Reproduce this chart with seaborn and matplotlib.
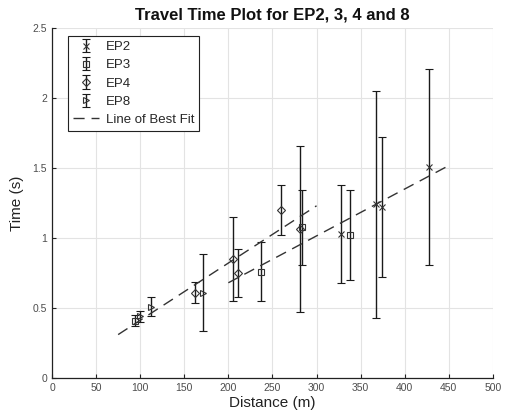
import numpy as np
import pandas as pd
import matplotlib
matplotlib.use("Agg")
import matplotlib.pyplot as plt
from matplotlib.ticker import FuncFormatter, MultipleLocator
import seaborn as sns

# -----------------------------
# DATA
# -----------------------------
ep2_dist = [328, 368, 374, 427]
ep2_time = [1.03, 1.24, 1.22, 1.51]
ep2_err = [0.35, 0.81, 0.50, 0.70]

ep3_dist = [94, 237, 283, 338]
ep3_time = [0.41, 0.76, 1.075, 1.02]
ep3_err = [0.04, 0.21, 0.265, 0.32]

ep4_dist = [162, 205, 211, 260, 281]
ep4_time = [0.61, 0.85, 0.75, 1.20, 1.065]
ep4_err = [0.075, 0.30, 0.17, 0.18, 0.595]

ep8_dist = [100, 112, 171]
ep8_time = [0.44, 0.51, 0.61]
ep8_err = [0.04, 0.065, 0.275]

# two fitted lines: slope, intercept, x range
fit_slope = [0.00409, 0.00335]
fit_intercept = [0.003, 0.01]
fit_start = [75, 200]
fit_end = [300, 451]

series = [
    ("EP2", ep2_dist, ep2_time, ep2_err, "x", 4.5),
    ("EP3", ep3_dist, ep3_time, ep3_err, "s", 4.5),
    ("EP4", ep4_dist, ep4_time, ep4_err, "D", 4.5),
    ("EP8", ep8_dist, ep8_time, ep8_err, ">", 5),
]

# -----------------------------
# STYLE
# -----------------------------
sns.set_style("whitegrid")
plt.rcParams['font.family'] = ['Liberation Sans', 'DejaVu Sans']

fig = plt.figure(figsize=(5.05, 4.19), dpi=100)
ax = fig.add_axes([0.103, 0.098, 0.873, 0.835])

# -----------------------------
# ERROR BAR SERIES
# -----------------------------
handles = []
for name, d, t, e, m, ms in series:
    h = ax.errorbar(d, t, yerr=e, fmt=m, color="#1a1a1a", ecolor="#1a1a1a",
                    mfc="none", mec="#333333", ms=ms, mew=0.8,
                    elinewidth=1.0, capsize=3, capthick=1.0, label=name)
    handles.append(h)

# -----------------------------
# LINES OF BEST FIT
# -----------------------------
for i in range(len(fit_slope)):
    fx = np.array([fit_start[i], fit_end[i]])
    fit_df = pd.DataFrame({"x": fx, "y": fit_slope[i] * fx + fit_intercept[i]})
    sns.lineplot(data=fit_df, x="x", y="y", ax=ax, color="#333333",
                 linewidth=1.0, linestyle=(0, (8, 5)),
                 label="Line of Best Fit" if i == 0 else None)
fit_handle = ax.get_lines()[-2]

# -----------------------------
# AXES
# -----------------------------
ax.set_xlim(0, 500)
ax.set_ylim(0, 2.5)
ax.xaxis.set_major_locator(MultipleLocator(50))
ax.yaxis.set_major_locator(MultipleLocator(0.5))
ax.yaxis.set_major_formatter(FuncFormatter(lambda v, p: "%g" % v))
ax.grid(True, color="#e3e3e3", linewidth=0.8)
ax.set_axisbelow(True)

for s in ["top", "right"]:
    ax.spines[s].set_visible(False)
for s in ["left", "bottom"]:
    ax.spines[s].set_visible(True)
    ax.spines[s].set_color("#222222")
    ax.spines[s].set_linewidth(0.9)

ax.tick_params(axis="both", direction="in", length=3, width=0.8,
               labelsize=7.5, labelcolor="#4d4d4d", color="#222222",
               bottom=True, left=True)

ax.set_xlabel("Distance (m)", fontsize=11, color="#222222", labelpad=2)
ax.set_ylabel("Time (s)", fontsize=11, color="#222222", labelpad=6)
ax.set_title("Travel Time Plot for EP2, 3, 4 and 8", fontsize=12,
             fontweight="bold", color="#111111", pad=6)

leg = ax.legend(handles=handles + [fit_handle],
                labels=["EP2", "EP3", "EP4", "EP8", "Line of Best Fit"],
                loc="upper left", bbox_to_anchor=(0.022, 0.995), fontsize=9.5,
                frameon=True, fancybox=False, framealpha=1,
                edgecolor="#222222", labelspacing=0.45, handlelength=2.0,
                handletextpad=0.5, borderpad=0.35)
leg.get_frame().set_linewidth(0.8)

plt.savefig("out.png", dpi=100)
